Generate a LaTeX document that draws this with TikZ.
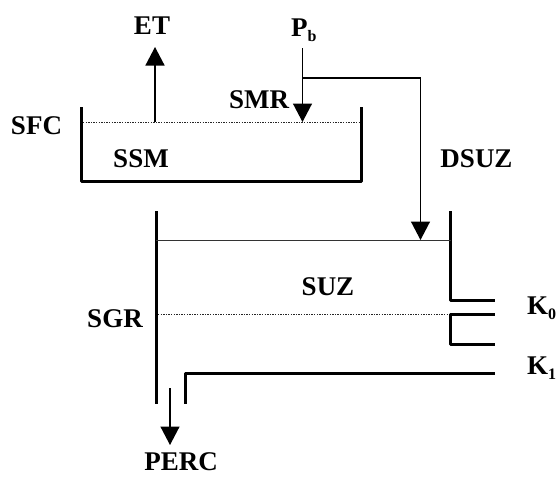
\documentclass[tikz,border=0pt]{standalone}
\usepackage{fontspec}
\setmainfont{Liberation Serif}
\usetikzlibrary{arrows.meta}
\newcommand{\subdn}[1]{\raisebox{-0.22em}{\fontsize{16}{16}\selectfont #1}}
\tikzset{
  x=1pt,y=-1pt,
  lbl/.style={inner sep=0pt,font=\fontsize{27}{27}\selectfont\bfseries,anchor=base},
  wall/.style={line width=3pt,line cap=butt,line join=round,draw=black},
  level/.style={line width=1pt,dash pattern=on 1.3pt off 1.3pt,draw=black!85},
  flow/.style={line width=1.4pt,draw=black,-{Triangle[length=18.5pt,width=19pt]}}
}
\begin{document}
\begin{tikzpicture}
\useasboundingbox (0,0) rectangle (556,477);
% labels
\node[lbl] (et) at (152,34) {ET};
\node[lbl,anchor=base west] (pb) at (291,36) {P\subdn{b}};
\node[lbl] (smr) at (259,108) {SMR};
\node[lbl] (sfc) at (36.5,134) {SFC};
\node[lbl] (ssm) at (141,167) {SSM};
\node[lbl] (dsuz) at (476.5,167) {DSUZ};
\node[lbl] (suz) at (328,295) {SUZ};
\node[lbl] (sgr) at (115,327) {SGR};
\node[lbl,anchor=base west] (k0) at (527,314) {K\subdn{0}};
\node[lbl,anchor=base west] (k1) at (527,374) {K\subdn{1}};
\node[lbl] (perc) at (181,470) {PERC};
% upper tank
\coordinate (ta) at (81,107);
\coordinate (tb) at (81,181);
\coordinate (tc) at (361.5,181);
\coordinate (td) at (361.5,107);
\draw[wall] (ta) -- (tb) -- (tc) -- (td);
\coordinate (l1a) at (83,122);
\coordinate (l1b) at (360,122);
\draw[level] (l1a) -- (l1b);
% ET
\coordinate (ets) at (155,122);
\coordinate (ete) at (155,47);
\draw[flow] (ets) -- (ete);
% Pb
\coordinate (ps) at (302.5,48);
\coordinate (pe) at (302.5,122);
\coordinate (pj) at (302.5,78);
\coordinate (pk) at (420.5,78);
\coordinate (pt) at (420.5,240);
\draw[flow] (ps) -- (pe);
\draw[flow] (pj) -- (pk) -- (pt);
% lower tank
\coordinate (sa) at (156,211);
\coordinate (sb) at (156,403.5);
\draw[wall] (sa) -- (sb);
\coordinate (ra) at (450.5,211);
\coordinate (rb) at (450.5,300);
\coordinate (rc) at (494.5,300);
\draw[wall] (ra) -- (rb) -- (rc);
\coordinate (ua) at (156,240);
\coordinate (ub) at (450.5,240);
\draw[line width=1pt,draw=black!80] (ua) -- (ub);
\coordinate (l2a) at (158,314.5);
\coordinate (l2b) at (449,314.5);
\draw[level] (l2a) -- (l2b);
\coordinate (oa) at (494.5,314.5);
\coordinate (ob) at (450.5,314.5);
\coordinate (oc) at (450.5,344);
\coordinate (od) at (494.5,344);
\draw[wall] (oa) -- (ob) -- (oc) -- (od);
\coordinate (ba) at (494.5,373.5);
\coordinate (bb) at (185,373.5);
\coordinate (bc) at (185,403.5);
\draw[wall] (ba) -- (bb) -- (bc);
% PERC
\coordinate (ds) at (170,388);
\coordinate (de) at (170,445);
\draw[flow] (ds) -- (de);
\end{tikzpicture}
\end{document}
